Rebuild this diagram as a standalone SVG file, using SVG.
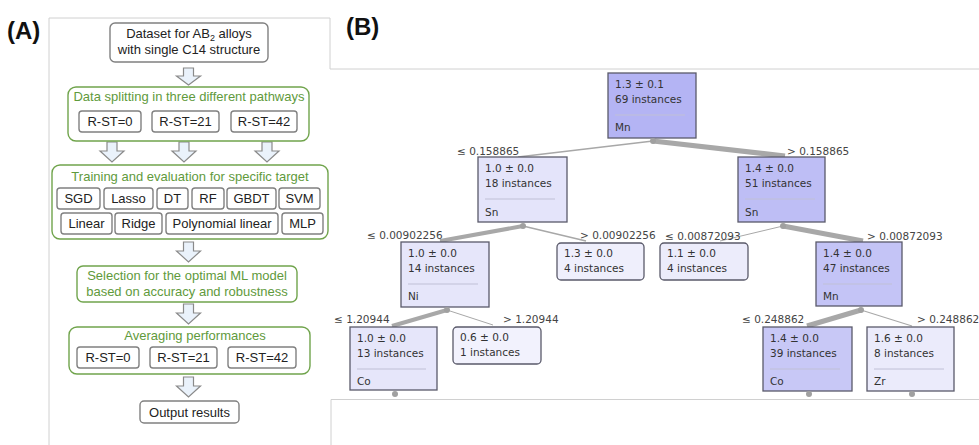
<svg xmlns="http://www.w3.org/2000/svg" width="979" height="445" viewBox="0 0 979 445">
<defs>
<style>
.frame{fill:none;stroke:#d0d0d0;stroke-width:1}
.gbox{fill:#fff;stroke:#808080;stroke-width:1.4}
.grn{fill:#fff;stroke:#70a44c;stroke-width:1.4}
.t{font-family:"Liberation Sans",Arial,sans-serif;font-size:13px;fill:#222;text-anchor:middle}
.tg{font-family:"Liberation Sans",Arial,sans-serif;font-size:13px;fill:#5f9a3c;text-anchor:middle}
.lbl{font-family:"Liberation Sans",Arial,sans-serif;font-size:24px;font-weight:bold;fill:#111}
.arr{fill:#eaf2fb;stroke:#8a8a8a;stroke-width:1.2}
.nd{stroke:#5a5a6a;stroke-width:1.3}
.nt{font-family:"DejaVu Sans",Verdana,sans-serif;font-size:10.5px;fill:#333}
.sep{stroke:#c0c0d6;stroke-width:1}
.el{font-family:"DejaVu Sans",Verdana,sans-serif;font-size:10.5px;fill:#444}
.e{stroke:#a8a8a8;fill:none;stroke-linecap:butt}
.dot{fill:#a0a0a0}
</style>
</defs>

<!-- frames -->
<g id="frames">
<polyline class="frame" points="49,445 49,18 330,18 330,69 979,69"/>
<polyline class="frame" points="331,445 331,399.5 979,399.5"/>
</g>

<text class="lbl" x="7" y="39">(A)</text>
<text class="lbl" x="346" y="35">(B)</text>

<!-- Panel A -->
<g id="a-dataset">
<rect class="gbox" x="110" y="23" width="158" height="39" rx="5"/>
<text class="t" x="189" y="38">Dataset for AB<tspan font-size="9" dy="3">2</tspan><tspan dy="-3"> alloys</tspan></text>
<text class="t" x="189" y="54">with single C14 structure</text>
</g>

<g id="a-arrows">
<polygon class="arr" points="183.5,68 193.5,68 193.5,76 200.5,76 188.5,85 176.5,76 183.5,76"/>
<polygon class="arr" points="107,142 117,142 117,151 124,151 112,162 100,151 107,151"/>
<polygon class="arr" points="179,142 189,142 189,151 196,151 184,162 172,151 179,151"/>
<polygon class="arr" points="262,142 272,142 272,151 279,151 267,162 255,151 262,151"/>
<polygon class="arr" points="183.5,242 193.5,242 193.5,251 200.5,251 188.5,262 176.5,251 183.5,251"/>
<polygon class="arr" points="183.5,304 193.5,304 193.5,313 200.5,313 188.5,324 176.5,313 183.5,313"/>
<polygon class="arr" points="183.5,377 193.5,377 193.5,386 200.5,386 188.5,397 176.5,386 183.5,386"/>
</g>

<g id="a-split">
<rect class="grn" x="68" y="87" width="241" height="54" rx="8"/>
<text class="tg" x="189" y="101">Data splitting in three different pathways</text>
<rect class="gbox" x="79" y="111" width="62" height="21" rx="3"/>
<text class="t" x="110" y="126">R-ST=0</text>
<rect class="gbox" x="152" y="111" width="67" height="21" rx="3"/>
<text class="t" x="185.5" y="126">R-ST=21</text>
<rect class="gbox" x="231" y="111" width="66" height="21" rx="3"/>
<text class="t" x="264" y="126">R-ST=42</text>
</g>

<g id="a-train">
<rect class="grn" x="52" y="165" width="276" height="74" rx="8"/>
<text class="tg" x="190" y="181">Training and evaluation for specific target</text>
<rect class="gbox" x="57" y="188" width="43" height="21" rx="3"/>
<text class="t" x="78.5" y="203">SGD</text>
<rect class="gbox" x="104" y="188" width="49" height="21" rx="3"/>
<text class="t" x="128.5" y="203">Lasso</text>
<rect class="gbox" x="157" y="188" width="31" height="21" rx="3"/>
<text class="t" x="172.5" y="203">DT</text>
<rect class="gbox" x="192" y="188" width="32" height="21" rx="3"/>
<text class="t" x="208" y="203">RF</text>
<rect class="gbox" x="227" y="188" width="49" height="21" rx="3"/>
<text class="t" x="251.5" y="203">GBDT</text>
<rect class="gbox" x="279" y="188" width="41" height="21" rx="3"/>
<text class="t" x="299.5" y="203">SVM</text>
<rect class="gbox" x="61" y="213" width="51" height="21" rx="3"/>
<text class="t" x="86.5" y="228">Linear</text>
<rect class="gbox" x="115" y="213" width="47" height="21" rx="3"/>
<text class="t" x="138.5" y="228">Ridge</text>
<rect class="gbox" x="166" y="213" width="112" height="21" rx="3"/>
<text class="t" x="222" y="228">Polynomial linear</text>
<rect class="gbox" x="282" y="213" width="41" height="21" rx="3"/>
<text class="t" x="302.5" y="228">MLP</text>
</g>

<g id="a-select">
<rect class="grn" x="77" y="266" width="220" height="36" rx="6"/>
<text class="tg" x="187" y="280">Selection for the optimal ML model</text>
<text class="tg" x="187" y="296">based on accuracy and robustness</text>
</g>

<g id="a-avg">
<rect class="grn" x="69" y="327" width="241" height="47" rx="8"/>
<text class="tg" x="195" y="340">Averaging performances</text>
<rect class="gbox" x="77" y="347" width="62" height="21" rx="3"/>
<text class="t" x="108" y="362">R-ST=0</text>
<rect class="gbox" x="150" y="347" width="67" height="21" rx="3"/>
<text class="t" x="183.5" y="362">R-ST=21</text>
<rect class="gbox" x="228" y="347" width="68" height="21" rx="3"/>
<text class="t" x="262" y="362">R-ST=42</text>
</g>

<g id="a-output">
<rect class="gbox" x="140" y="401" width="99" height="22" rx="4"/>
<text class="t" x="189.5" y="417">Output results</text>
</g>

<!-- Panel B: connectors -->
<g id="connectors">
<line class="e" x1="653" y1="141" x2="518" y2="157" stroke-width="1.5"/>
<line class="e" x1="653" y1="141" x2="785" y2="156" stroke-width="5"/>
<line class="e" x1="523" y1="226" x2="440" y2="241" stroke-width="4"/>
<line class="e" x1="523" y1="226" x2="586" y2="241" stroke-width="1.5"/>
<line class="e" x1="783" y1="226" x2="720" y2="241" stroke-width="1"/>
<line class="e" x1="783" y1="226" x2="863" y2="241" stroke-width="5"/>
<line class="e" x1="447" y1="310" x2="392" y2="326" stroke-width="4"/>
<line class="e" x1="447" y1="310" x2="493" y2="325" stroke-width="1"/>
<line class="e" x1="861" y1="310" x2="807" y2="326" stroke-width="5"/>
<line class="e" x1="861" y1="310" x2="912" y2="326" stroke-width="1.2"/>
<text class="el" x="457" y="155">≤ 0.158865</text>
<text class="el" x="787" y="155">&gt; 0.158865</text>
<text class="el" x="367" y="239">≤ 0.00902256</text>
<text class="el" x="580" y="239">&gt; 0.00902256</text>
<text class="el" x="665" y="240">≤ 0.00872093</text>
<text class="el" x="867" y="240">&gt; 0.00872093</text>
<text class="el" x="334" y="323">≤ 1.20944</text>
<text class="el" x="503" y="323">&gt; 1.20944</text>
<text class="el" x="742" y="323">≤ 0.248862</text>
<text class="el" x="917" y="323">&gt; 0.248862</text>
</g>

<!-- Panel B: nodes -->
<g id="n-root">
<rect class="nd" x="608" y="73" width="88" height="65" fill="#b4b4f4"/>
<text class="nt" x="615" y="88">1.3 ± 0.1</text>
<text class="nt" x="615" y="103">69 instances</text>
<line class="sep" x1="615" y1="115" x2="685" y2="115"/>
<text class="nt" x="615" y="131">Mn</text>
<circle class="dot" cx="653" cy="141" r="3"/>
</g>

<g id="n-sn18">
<rect class="nd" x="478" y="157" width="89" height="65" fill="#e4e4fa"/>
<text class="nt" x="485" y="172">1.0 ± 0.0</text>
<text class="nt" x="485" y="187">18 instances</text>
<line class="sep" x1="485" y1="199" x2="555" y2="199"/>
<text class="nt" x="485" y="216">Sn</text>
<circle class="dot" cx="523" cy="226" r="3"/>
</g>

<g id="n-sn51">
<rect class="nd" x="738" y="157" width="87" height="65" fill="#bebef5"/>
<text class="nt" x="745" y="172">1.4 ± 0.0</text>
<text class="nt" x="745" y="187">51 instances</text>
<line class="sep" x1="745" y1="199" x2="815" y2="199"/>
<text class="nt" x="745" y="216">Sn</text>
<circle class="dot" cx="783" cy="226" r="3"/>
</g>

<g id="n-ni14">
<rect class="nd" x="401" y="242" width="88" height="65" fill="#e6e6fa"/>
<text class="nt" x="408" y="257">1.0 ± 0.0</text>
<text class="nt" x="408" y="272">14 instances</text>
<line class="sep" x1="408" y1="284" x2="478" y2="284"/>
<text class="nt" x="408" y="300">Ni</text>
<circle class="dot" cx="447" cy="310" r="3"/>
</g>

<g id="n-leaf13">
<rect class="nd" x="557" y="243" width="87" height="37" rx="4" fill="#efeffc"/>
<text class="nt" x="564" y="257">1.3 ± 0.0</text>
<text class="nt" x="564" y="272">4 instances</text>
</g>

<g id="n-leaf11">
<rect class="nd" x="660" y="243" width="88" height="37" rx="4" fill="#ececfb"/>
<text class="nt" x="667" y="257">1.1 ± 0.0</text>
<text class="nt" x="667" y="272">4 instances</text>
</g>

<g id="n-mn47">
<rect class="nd" x="816" y="242" width="86" height="64" fill="#c4c4f6"/>
<text class="nt" x="823" y="257">1.4 ± 0.0</text>
<text class="nt" x="823" y="272">47 instances</text>
<line class="sep" x1="823" y1="284" x2="892" y2="284"/>
<text class="nt" x="823" y="300">Mn</text>
<circle class="dot" cx="861" cy="310" r="3"/>
</g>

<g id="n-co13">
<rect class="nd" x="350" y="327" width="87" height="63" fill="#e6e6fa"/>
<text class="nt" x="357" y="342">1.0 ± 0.0</text>
<text class="nt" x="357" y="357">13 instances</text>
<line class="sep" x1="357" y1="369" x2="426" y2="369"/>
<text class="nt" x="357" y="385">Co</text>
<circle class="dot" cx="395" cy="394" r="3"/>
</g>

<g id="n-leaf06">
<rect class="nd" x="453" y="327" width="88" height="37" rx="4" fill="#f2f2fd"/>
<text class="nt" x="460" y="341">0.6 ± 0.0</text>
<text class="nt" x="460" y="356">1 instances</text>
</g>

<g id="n-co39">
<rect class="nd" x="763" y="327" width="89" height="64" fill="#c8c8f6"/>
<text class="nt" x="770" y="342">1.4 ± 0.0</text>
<text class="nt" x="770" y="357">39 instances</text>
<line class="sep" x1="770" y1="369" x2="840" y2="369"/>
<text class="nt" x="770" y="385">Co</text>
<circle class="dot" cx="809" cy="394" r="3"/>
</g>

<g id="n-zr8">
<rect class="nd" x="867" y="327" width="87" height="64" fill="#ebebfb"/>
<text class="nt" x="874" y="342">1.6 ± 0.0</text>
<text class="nt" x="874" y="357">8 instances</text>
<line class="sep" x1="874" y1="369" x2="944" y2="369"/>
<text class="nt" x="874" y="385">Zr</text>
<circle class="dot" cx="912" cy="394" r="3"/>
</g>
</svg>
